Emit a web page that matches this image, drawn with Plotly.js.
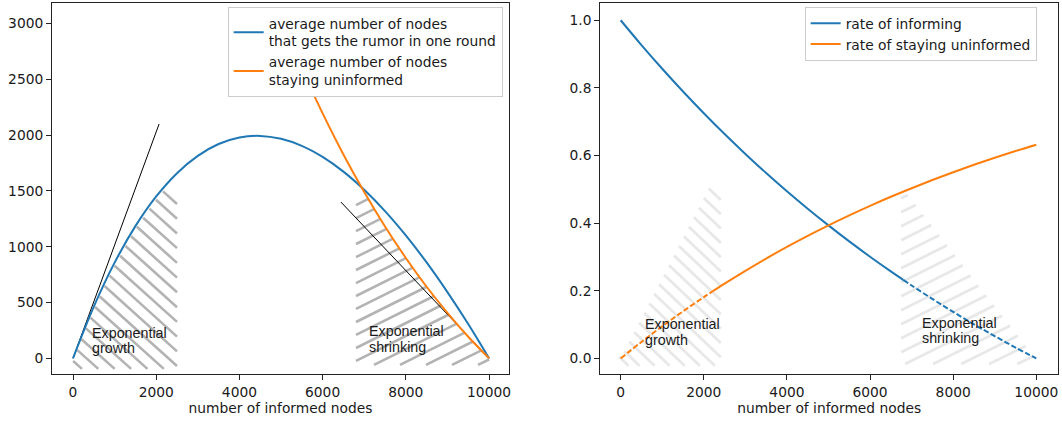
<!DOCTYPE html>
<html>
<head>
<meta charset="utf-8">
<script src="https://cdn.plot.ly/plotly-3.0.1.min.js"></script>
<style>html,body{margin:0;padding:0;background:#fff}#chart{width:1062px;height:423px}</style>
</head>
<body>
<div id="chart"></div>
<script>
// ---------- data ----------
const xNodes = [0,500,1000,1500,2000,2500,3000,3500,4000,4500,5000,5500,6000,6500,7000,7500,8000,8500,9000,9500,10000];
const nodesInformedPerRound = [0,463,857,1184,1450,1659,1814,1920,1978,1993,1967,1904,1805,1673,1510,1319,1101,859,593,307,0];
const xUninf = [5000,5500,6000,6500,7000,7500,8000,8500,9000,9500,10000];
const nodesStayingUninformed = [3033,2596,2195,1827,1490,1181,899,641,407,193,0];

const xRateInfSolid = [0,500,1000,1500,2000,2500,3000,3500,4000,4500,5000,5500,6000,6500,6800];
const rateInformingSolid = [1.0,0.9266,0.8565,0.7893,0.7251,0.6636,0.6048,0.5484,0.4945,0.4429,0.3935,0.3461,0.3008,0.2574,0.2322];
const xRateInfDash = [6800,7000,7500,8000,8500,9000,9500,10000];
const rateInformingDash = [0.2322,0.2157,0.1759,0.1377,0.1010,0.0659,0.0323,0.0];

const xRateUninfDash = [0,500,1000,1500,2000,2200];
const rateUninformedDash = [0,0.0488,0.0952,0.1393,0.1813,0.1975];
const xRateUninfSolid = [2200,2500,3000,3500,4000,4500,5000,5500,6000,6500,7000,7500,8000,8500,9000,9500,10000];
const rateUninformedSolid = [0.1975,0.2212,0.2592,0.2953,0.3297,0.3624,0.3935,0.4231,0.4512,0.4780,0.5034,0.5276,0.5507,0.5726,0.5934,0.6133,0.6321];

// guide (tangent) lines in the left panel
const tangentGrowthX = [0,2070];
const tangentGrowthY = [0,2100];
const tangentShrinkX = [6440,10000];
const tangentShrinkY = [1400,0];

// hatch segments, left panel
const growthL_x0 = [2,103,204,310,418,529,642,757,879,1000,1130,1260,1397,1536,1685,1837,1995,2164];
const growthL_y0 = [-24,73,171,268,364,459,553,647,741,829,918,1007,1093,1178,1260,1341,1420,1496];
const growthL_x1 = [216,608,1002,1397,1789,2183,2500,2500,2500,2500,2500,2500,2500,2500,2500,2500,2500,2500];
const growthL_y1 = [-95,-95,-95,-95,-95,-95,-70,62,194,326,458,591,723,855,987,1119,1251,1383];

const shrinkL_x0 = [6803,6803,6803,6803,6803,6803,6803,6803,6803,6803,6803,6803,6803,7236,7861,8486,9111,9736];
const shrinkL_y0 = [1373,1256,1140,1024,907,791,674,558,442,325,209,92,-24,-60,-60,-60,-60,-60];
const shrinkL_x1 = [7101,7246,7390,7537,7693,7847,8001,8169,8335,8501,8679,8856,9037,9227,9416,9614,9816,10001];
const shrinkL_y1 = [1428,1339,1249,1160,1073,985,897,812,727,641,558,475,392,311,230,150,71,-11];

// hatch segments, right panel
const growthR_x0 = [2119,1999,1881,1760,1640,1522,1401,1283,1163,1043,925,804,686,566,445,327,207,87,-41];
const growthR_y0 = [0.5025,0.4741,0.4458,0.4177,0.3893,0.3609,0.3325,0.3042,0.2758,0.2474,0.2190,0.1910,0.1626,0.1342,0.1058,0.0774,0.0491,0.0210,0.005];
const growthR_x1 = [2410,2410,2410,2410,2410,2410,2410,2410,2410,2410,2410,2410,2266,1905,1541,1178,816,453,188];
const growthR_y1 = [0.4685,0.4262,0.3840,0.3417,0.2994,0.2572,0.2149,0.1726,0.1304,0.0881,0.0458,0.0035,-0.0219,-0.0219,-0.0219,-0.0219,-0.0219,-0.0219,-0.0219];

const shrinkR_x0 = [6747,6747,6747,6747,6747,6747,6747,6747,6747,6747,6747,6747,6843,7518,8192,8866,9541];
const shrinkR_y0 = [0.4738,0.4325,0.3911,0.3497,0.3083,0.2669,0.2255,0.1842,0.1428,0.1014,0.0600,0.0186,-0.0168,-0.0168,-0.0168,-0.0168,-0.0168];
const shrinkR_x1 = [6906,7096,7287,7474,7665,7852,8043,8231,8421,8609,8799,8989,9177,9367,9555,9745,9933];
const shrinkR_y1 = [0.4836,0.4539,0.4242,0.3943,0.3646,0.3348,0.3051,0.2752,0.2455,0.2156,0.1859,0.1562,0.1264,0.0967,0.0668,0.0371,0.0072];

const xTickVals = [0,2000,4000,6000,8000,10000];
const xTickText = ['0','2000','4000','6000','8000','10000'];
const yTickValsL = [0,500,1000,1500,2000,2500,3000];
const yTickValsR = [0,0.2,0.4,0.6,0.8,1.0];
const xTitle = 'number of informed nodes';
const legendLeft = ['average number of nodes<br>that gets the rumor in one round','average number of nodes<br>staying uninformed'];
const legendRight = ['rate of informing','rate of staying uninformed'];
const labelGrowth = ['Exponential','growth'];
const labelShrink = ['Exponential','shrinking'];

// ---------- build ----------
const BLUE = '#1f77b4', ORANGE = '#ff7f0e';
function segs(x0,y0,x1,y1){
  const xs=[], ys=[];
  for(let i=0;i<x0.length;i++){ xs.push(x0[i],x1[i],null); ys.push(y0[i],y1[i],null); }
  return {x:xs,y:ys};
}
function hatch(s, xa, ya, color, w){
  return {x:s.x, y:s.y, xaxis:xa, yaxis:ya, mode:'lines', type:'scatter',
    line:{color:color, width:w}, showlegend:false, hoverinfo:'skip', connectgaps:false};
}
const HL='#b3b3b3', HR='#e8e8e8';
const traces = [
  hatch(segs(growthL_x0,growthL_y0,growthL_x1,growthL_y1),'x','y',HL,2.6),
  hatch(segs(shrinkL_x0,shrinkL_y0,shrinkL_x1,shrinkL_y1),'x','y',HL,2.6),
  hatch(segs(growthR_x0,growthR_y0,growthR_x1,growthR_y1),'x2','y2',HR,2.8),
  hatch(segs(shrinkR_x0,shrinkR_y0,shrinkR_x1,shrinkR_y1),'x2','y2',HR,2.8),
  {x:tangentGrowthX, y:tangentGrowthY, mode:'lines', line:{color:'#000',width:1}, showlegend:false, hoverinfo:'skip'},
  {x:tangentShrinkX, y:tangentShrinkY, mode:'lines', line:{color:'#000',width:1}, showlegend:false, hoverinfo:'skip'},
  {x:xNodes, y:nodesInformedPerRound, mode:'lines', line:{color:BLUE,width:2,shape:'spline'}, name:legendLeft[0], legend:'legend'},
  {x:xUninf, y:nodesStayingUninformed, mode:'lines', line:{color:ORANGE,width:2,shape:'spline'}, name:legendLeft[1], legend:'legend'},
  {x:xRateInfSolid, y:rateInformingSolid, xaxis:'x2', yaxis:'y2', mode:'lines', line:{color:BLUE,width:2,shape:'spline'}, name:legendRight[0], legend:'legend2'},
  {x:xRateInfDash, y:rateInformingDash, xaxis:'x2', yaxis:'y2', mode:'lines', line:{color:BLUE,width:2,dash:'5.5px,2.4px',shape:'spline'}, showlegend:false},
  {x:xRateUninfSolid, y:rateUninformedSolid, xaxis:'x2', yaxis:'y2', mode:'lines', line:{color:ORANGE,width:2,shape:'spline'}, name:legendRight[1], legend:'legend2'},
  {x:xRateUninfDash, y:rateUninformedDash, xaxis:'x2', yaxis:'y2', mode:'lines', line:{color:ORANGE,width:2,dash:'5.5px,2.4px',shape:'spline'}, showlegend:false}
];

const FONT = {family:'DejaVu Sans', size:13.8, color:'#1a1a1a'};
const ANN_FONT = {family:'Liberation Sans, Arial', size:14.3, color:'#1a1a1a'};
function axisBase(){
  return {showgrid:false, zeroline:false, showline:true, linecolor:'#222', linewidth:1, mirror:true,
    ticks:'outside', ticklen:5, tickwidth:1, tickcolor:'#222', tickfont:FONT, automargin:false};
}
const layout = {
  width:1062, height:423,
  margin:{l:52, r:4, t:3, b:49},
  paper_bgcolor:'#fff', plot_bgcolor:'#fff',
  font:FONT,
  xaxis: Object.assign(axisBase(), {domain:[0,0.4543], range:[-505,10481], tickvals:xTickVals, ticktext:xTickText, anchor:'y',
    title:{text:xTitle, font:FONT, standoff:4}}),
  yaxis: Object.assign(axisBase(), {domain:[0,1], range:[-141,3184], tickvals:yTickValsL, anchor:'x'}),
  xaxis2: Object.assign(axisBase(), {domain:[0.5450,1], range:[-491,10522], tickvals:xTickVals, ticktext:xTickText, anchor:'y2',
    title:{text:xTitle, font:FONT, standoff:4}}),
  yaxis2: Object.assign(axisBase(), {domain:[0,1], range:[-0.046,1.051], tickvals:yTickValsR, tickformat:'.1f', anchor:'x2'}),
  legend: {x:0.448, y:0.99, xanchor:'right', yanchor:'top', bgcolor:'rgba(255,255,255,1)', bordercolor:'#cccccc', borderwidth:1,
    font:FONT, tracegroupgap:0, itemwidth:30},
  legend2: {x:0.9788, y:0.99, xanchor:'right', yanchor:'top', bgcolor:'rgba(255,255,255,1)', bordercolor:'#cccccc', borderwidth:1,
    font:FONT, tracegroupgap:0, itemwidth:30},
  showlegend:true,
  annotations: [
    {xref:'x', yref:'y', x:409, y:227, text:labelGrowth[0], showarrow:false, xanchor:'left', yanchor:'middle', font:ANN_FONT},
    {xref:'x', yref:'y', x:409, y:92, text:labelGrowth[1], showarrow:false, xanchor:'left', yanchor:'middle', font:ANN_FONT},
    {xref:'x', yref:'y', x:7058, y:244, text:labelShrink[0], showarrow:false, xanchor:'left', yanchor:'middle', font:ANN_FONT},
    {xref:'x', yref:'y', x:7058, y:104, text:labelShrink[1], showarrow:false, xanchor:'left', yanchor:'middle', font:ANN_FONT},
    {xref:'x2', yref:'y2', x:535, y:0.1014, text:labelGrowth[0], showarrow:false, xanchor:'left', yanchor:'middle', font:ANN_FONT},
    {xref:'x2', yref:'y2', x:535, y:0.0541, text:labelGrowth[1], showarrow:false, xanchor:'left', yanchor:'middle', font:ANN_FONT},
    {xref:'x2', yref:'y2', x:7205, y:0.1052, text:labelShrink[0], showarrow:false, xanchor:'left', yanchor:'middle', font:ANN_FONT},
    {xref:'x2', yref:'y2', x:7205, y:0.0591, text:labelShrink[1], showarrow:false, xanchor:'left', yanchor:'middle', font:ANN_FONT}
  ]
};
Plotly.newPlot('chart', traces, layout, {displayModeBar:false, staticPlot:true});
</script>
</body>
</html>
